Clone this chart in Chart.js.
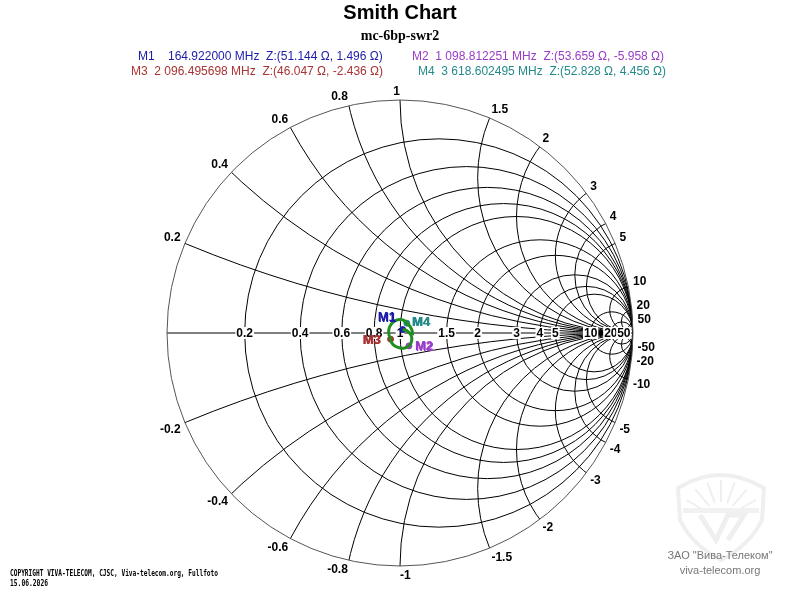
<!DOCTYPE html>
<html>
<head>
<meta charset="utf-8">
<script src="https://cdn.jsdelivr.net/npm/chart.js@4"></script>
<style>
  html, body { margin: 0; padding: 0; background: #fff; }
</style>
</head>
<body>
<canvas id="smith" width="800" height="600"></canvas>
<script>
// Grid values of the Smith chart (normalised resistance / reactance)
const resistanceValues = [0.2, 0.4, 0.6, 0.8, 1, 1.5, 2, 3, 4, 5, 10, 20, 50];
const reactanceValues = [0.2, 0.4, 0.6, 0.8, 1, 1.5, 2, 3, 4, 5, 10, 20, 50];

// Markers
const z0 = 50;
const markerNames = ['M1', 'M2', 'M3', 'M4'];
const markerFreqs = ['  164.922000', '1 098.812251', '2 096.495698', '3 618.602495'];
const markerR = [51.144, 53.659, 46.047, 52.828];
const markerX = [1.496, -5.958, -2.436, 4.456];
const markerColors = ['#1c1ca8', '#9a3cc8', '#a83434', '#248a8a'];

const traceRe = [0.011, 0.030, 0.048, 0.050, 0.0385, 0.020, 0.000, -0.022, -0.036, -0.0405,
                 -0.048, -0.047, -0.036, -0.018, 0.004, 0.020, 0.029, 0.042, 0.052, 0.054];
const traceIm = [0.015, 0.010, -0.010, -0.035, -0.0553, -0.064, -0.064, -0.056, -0.042, -0.0264,
                 -0.005, 0.020, 0.040, 0.054, 0.058, 0.052, 0.042, 0.030, 0.010, -0.010];

// label offsets for marker names (pixels from the marker point)
const markerLabelOffset = [[-16, -12], [15, 1], [-19, 1], [14, -1]];
const legendPos = [[138, 57], [412, 57], [131, 72], [418, 72]];

function toGamma(r, x) {
    const a = r / z0 - 1, b = x / z0, c = r / z0 + 1;
    const d = c * c + b * b;
    return { x: (a * c + b * b) / d, y: (b * c - a * b) / d };
}

const tracePoints = traceRe.map((v, i) => ({ x: v, y: traceIm[i] }));

const smithGrid = {
    id: 'smithGrid',
    beforeDatasetsDraw(chart) {
        const { ctx, scales: { x, y } } = chart;
        const px = v => x.getPixelForValue(v);
        const py = v => y.getPixelForValue(v);
        const cx = px(0), cy = py(0);
        const R = px(1) - cx;

        ctx.save();
        ctx.beginPath();
        ctx.arc(cx, cy, R, 0, 2 * Math.PI);
        ctx.clip();
        ctx.strokeStyle = '#000';
        ctx.lineWidth = 1;
        resistanceValues.forEach(r => {
            ctx.beginPath();
            ctx.arc(px(r / (1 + r)), cy, R / (1 + r), 0, 2 * Math.PI);
            ctx.stroke();
        });
        reactanceValues.forEach(v => {
            [v, -v].forEach(s => {
                ctx.beginPath();
                ctx.arc(px(1), py(1 / s), R / Math.abs(s), 0, 2 * Math.PI);
                ctx.stroke();
            });
        });
        ctx.beginPath();
        ctx.moveTo(cx - R, cy);
        ctx.lineTo(cx + R, cy);
        ctx.stroke();
        ctx.restore();

        // outer circle
        ctx.save();
        ctx.strokeStyle = '#555';
        ctx.lineWidth = 1;
        ctx.beginPath();
        ctx.arc(cx, cy, R, 0, 2 * Math.PI);
        ctx.stroke();

        // reactance labels round the edge
        ctx.font = 'bold 12px Arial, "Liberation Sans", sans-serif';
        ctx.fillStyle = '#000';
        reactanceValues.forEach(v => {
            [v, -v].forEach(s => {
                const re = (s * s - 1) / (s * s + 1);
                const im = 2 * s / (s * s + 1);
                const lx = px(1.02 * re), ly = py(1.02 * im);
                ctx.textBaseline = im > 0 ? 'bottom' : 'top';
                const left = im > 0 ? re > 0 : re >= 0;
                ctx.textAlign = left ? 'left' : 'right';
                ctx.fillText(String(s), lx, ly + (im > 0 ? 2 : -1));
            });
        });

        // resistance labels on the real axis
        ctx.textAlign = 'center';
        ctx.textBaseline = 'middle';
        resistanceValues.forEach(r => {
            const lx = px((r - 1) / (r + 1));
            const t = String(r);
            const w = ctx.measureText(t).width;
            ctx.fillStyle = '#fff';
            ctx.fillRect(lx - w / 2 - 1, cy - 6, w + 2, 12);
            ctx.fillStyle = '#000';
            ctx.fillText(t, lx, cy + 1);
        });
        ctx.restore();
    },
    afterDatasetsDraw(chart) {
        const { ctx } = chart;
        ctx.save();
        ctx.font = 'bold 13px Arial, "Liberation Sans", sans-serif';
        ctx.textAlign = 'center';
        ctx.textBaseline = 'middle';
        markerNames.forEach((name, i) => {
            const pt = chart.getDatasetMeta(i + 1).data[0];
            const lx = pt.x + markerLabelOffset[i][0];
            const ly = pt.y + markerLabelOffset[i][1];
            ctx.fillStyle = markerColors[i];
            ctx.fillText(name, lx, ly);
            ctx.fillText(name, lx + 0.7, ly + 0.4);
        });
        ctx.restore();
    },
    afterDraw(chart) {
        const { ctx } = chart;
        ctx.save();
        // watermark shield (very faint)
        ctx.strokeStyle = '#efefef';
        ctx.fillStyle = '#f1f1f1';
        ctx.lineWidth = 4;
        ctx.beginPath();
        ctx.moveTo(678, 488);
        ctx.quadraticCurveTo(720, 462, 764, 488);
        ctx.lineTo(762, 520);
        ctx.quadraticCurveTo(750, 545, 721, 560);
        ctx.quadraticCurveTo(692, 545, 680, 520);
        ctx.closePath();
        ctx.stroke();
        ctx.lineWidth = 2;
        for (let a = -60; a <= 60; a += 20) {
            const t = (a - 90) * Math.PI / 180;
            ctx.beginPath();
            ctx.moveTo(721 + 18 * Math.cos(t), 520 + 18 * Math.sin(t));
            ctx.lineTo(721 + 40 * Math.cos(t), 520 + 40 * Math.sin(t));
            ctx.stroke();
        }
        ctx.fillRect(683, 508, 76, 5);
        ctx.lineWidth = 5;
        ctx.beginPath();
        ctx.moveTo(700, 515); ctx.lineTo(716, 540); ctx.lineTo(728, 515); ctx.lineTo(744, 515); ctx.lineTo(728, 540);
        ctx.stroke();

        // title + subtitle
        ctx.textAlign = 'center';
        ctx.textBaseline = 'middle';
        ctx.fillStyle = '#000';
        ctx.font = 'bold 20px Arial, "Liberation Sans", sans-serif';
        ctx.fillText('Smith Chart', 400, 13);
        ctx.font = 'bold 14px "Times New Roman", "Liberation Serif", serif';
        ctx.fillText('mc-6bp-swr2', 400, 36);

        // marker legend
        ctx.textAlign = 'left';
        ctx.font = '12px Arial, "Liberation Sans", sans-serif';
        markerNames.forEach((name, i) => {
            ctx.fillStyle = markerColors[i];
            const txt = name + '  ' + markerFreqs[i] + ' MHz  Z:(' + markerR[i].toFixed(3) +
                ' \u03A9, ' + markerX[i].toFixed(3) + ' \u03A9)';
            ctx.fillText(txt, legendPos[i][0], legendPos[i][1]);
        });

        ctx.textAlign = 'center';
        ctx.fillStyle = '#777';
        ctx.font = '11px Arial, "Liberation Sans", sans-serif';
        ctx.fillText('\u0417\u0410\u041E "\u0412\u0438\u0432\u0430-\u0422\u0435\u043B\u0435\u043A\u043E\u043C"', 720, 556);
        ctx.fillText('viva-telecom.org', 720, 571);

        // copyright
        ctx.textAlign = 'left';
        ctx.fillStyle = '#000';
        ctx.font = 'bold 8px "DejaVu Sans Mono", monospace';
        ctx.fillText('COPYRIGHT VIVA-TELECOM, CJSC, Viva-telecom.org, Fullfoto', 10, 574, 208);
        ctx.fillText('15.06.2026', 10, 584, 38);
        ctx.restore();
    }
};

const datasets = [{
    label: 'trace',
    data: tracePoints,
    showLine: true,
    borderColor: '#1f8f1f',
    borderWidth: 3,
    pointRadius: 0,
    tension: 0.3
}];
markerNames.forEach((name, i) => {
    datasets.push({
        label: name,
        data: [toGamma(markerR[i], markerX[i])],
        pointRadius: 3,
        pointBackgroundColor: markerColors[i],
        pointBorderColor: markerColors[i],
        showLine: false
    });
});

new Chart(document.getElementById('smith').getContext('2d'), {
    type: 'scatter',
    data: { datasets: datasets },
    options: {
        responsive: false,
        animation: false,
        devicePixelRatio: 1,
        layout: { padding: { left: 167, right: 167, top: 100, bottom: 34 } },
        scales: {
            x: { type: 'linear', min: -1, max: 1, display: false },
            y: { type: 'linear', min: -1, max: 1, display: false }
        },
        plugins: {
            legend: { display: false },
            tooltip: { enabled: false }
        }
    },
    plugins: [smithGrid]
});
</script>
</body>
</html>
